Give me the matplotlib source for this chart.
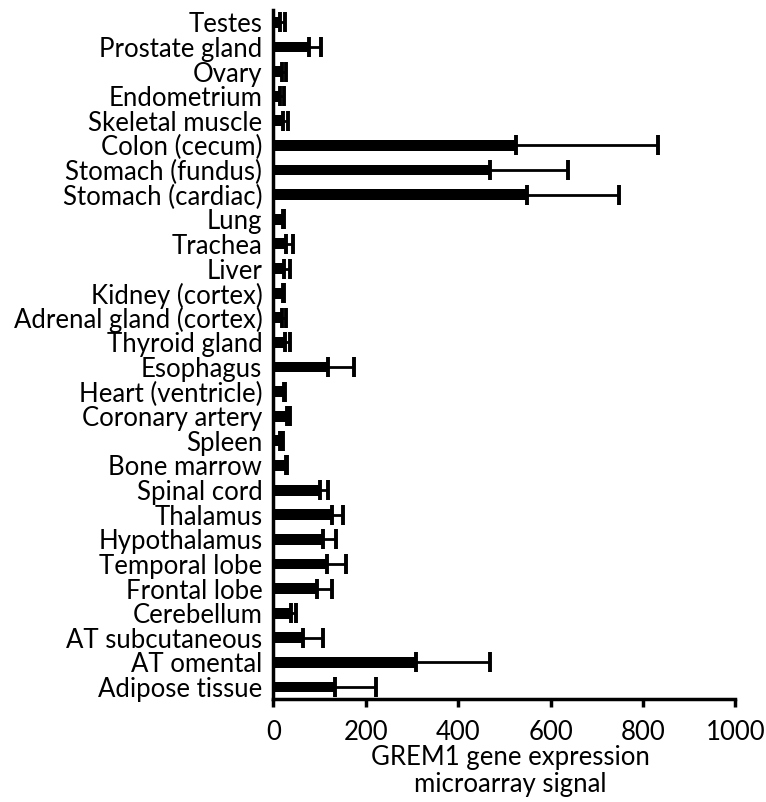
import matplotlib.pyplot as plt
import numpy as np

plt.rcParams['font.family'] = ['Lato', 'DejaVu Sans']

# tissues, top to bottom as drawn
tissues = ["Testes", "Prostate gland", "Ovary", "Endometrium", "Skeletal muscle",
           "Colon (cecum)", "Stomach (fundus)", "Stomach (cardiac)", "Lung", "Trachea",
           "Liver", "Kidney (cortex)", "Adrenal gland (cortex)", "Thyroid gland",
           "Esophagus", "Heart (ventricle)", "Coronary artery", "Spleen", "Bone marrow",
           "Spinal cord", "Thalamus", "Hypothalamus", "Temporal lobe", "Frontal lobe",
           "Cerebellum", "AT subcutaneous", "AT omental", "Adipose tissue"]
signal = [15, 78, 18, 14, 21,
          525, 468, 548, 20, 28,
          23, 20, 18, 25,
          119, 23, 30, 14, 27,
          101, 126, 107, 115, 94,
          39, 63, 309, 134]
sd = [9, 25, 9, 9, 10,
      307, 170, 200, 2, 15,
      13, 2, 10, 11,
      56, 3, 6, 6, 2,
      16, 25, 28, 42, 32,
      10, 44, 159, 88]

FS = 18.5

fig = plt.figure(figsize=(7.66, 8.02), dpi=100)
ax = fig.add_axes([0.357, 0.128, 0.603, 0.8595])

y = np.arange(len(tissues))
ax.barh(y, signal, height=0.44, color='black')
ax.errorbar(signal, y, xerr=[np.zeros(len(sd)), sd], fmt='none', ecolor='black',
            elinewidth=2.0, capsize=7, capthick=2.8)

ax.set_ylim(len(tissues) - 0.5, -0.5)
ax.set_xlim(0, 1000)
ax.set_xticks([0, 200, 400, 600, 800, 1000])
ax.set_yticks(y)
ax.set_yticklabels(tissues)

for s in ['top', 'right']:
    ax.spines[s].set_visible(False)
for s in ['left', 'bottom']:
    ax.spines[s].set_linewidth(2.5)

ax.tick_params(axis='y', length=0, pad=8, labelsize=FS)
ax.tick_params(axis='x', direction='out', length=6, width=2.5, pad=9, labelsize=FS)

ax.set_xlabel("GREM1 gene expression\nmicroarray signal", fontsize=FS, linespacing=1.12)
ax.xaxis.set_label_coords(0.512, -0.066, transform=ax.transAxes)
ax.xaxis.label.set_va('top')

fig.savefig('out.png', dpi=100)
